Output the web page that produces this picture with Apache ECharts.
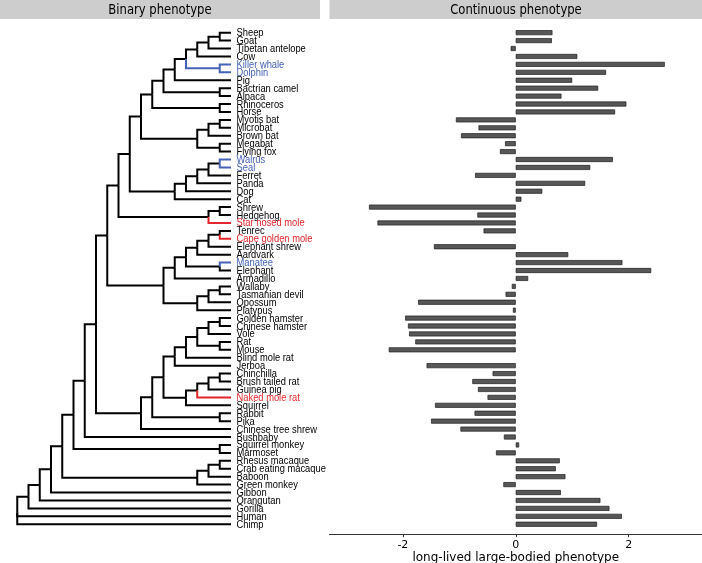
<!DOCTYPE html>
<html>
<head>
<meta charset="utf-8">
<script src="https://cdn.jsdelivr.net/npm/echarts@6/dist/echarts.min.js"></script>
<style>
html,body{margin:0;padding:0;background:#fff;}
#chart{width:702px;height:563px;}
</style>
</head>
<body>
<div id="chart"></div>
<script>
// ---------------- data ----------------
const species = [
  "Sheep","Goat","Tibetan antelope","Cow","Killer whale","Dolphin","Pig","Bactrian camel","Alpaca",
  "Rhinoceros","Horse","Myotis bat","Microbat","Brown bat","Megabat","Flying fox","Walrus","Seal",
  "Ferret","Panda","Dog","Cat","Shrew","Hedgehog","Star nosed mole","Tenrec","Cape golden mole",
  "Elephant shrew","Aardvark","Manatee","Elephant","Armadillo","Wallaby","Tasmanian devil","Opossum",
  "Platypus","Golden hamster","Chinese hamster","Vole","Rat","Mouse","Blind mole rat","Jerboa",
  "Chinchilla","Brush tailed rat","Guinea pig","Naked mole rat","Squirrel","Rabbit","Pika",
  "Chinese tree shrew","Bushbaby","Squirrel monkey","Marmoset","Rhesus macaque","Crab eating macaque",
  "Baboon","Green monkey","Gibbon","Orangutan","Gorilla","Human","Chimp"
];
const phenotypeValues = [
  0.65, 0.64, -0.09, 1.09, 2.64, 1.60, 1.00, 1.46, 0.81,
  1.96, 1.76, -1.06, -0.66, -0.97, -0.19, -0.28, 1.72, 1.32,
  -0.72, 1.23, 0.47, 0.10, -2.60, -0.68, -2.45, -0.57, null,
  -1.45, 0.93, 1.89, 2.40, 0.22, -0.07, -0.18, -1.73,
  -0.05, -1.96, -1.91, -1.89, -1.78, -2.25, null, -1.58,
  -0.41, -0.77, -0.67, -0.50, -1.43, -0.73, -1.50,
  -0.98, -0.21, 0.06, -0.35, 0.78, 0.71,
  0.88, -0.22, 0.80, 1.50, 1.66, 1.88, 1.44
];
const xTickValues = [-2, 0, 2];

// tree topology (Newick pieces)
const ungulatesNwk = "(((((((Sheep,Goat),Tibetan antelope),Cow),(Killer whale,Dolphin)),Pig),(Bactrian camel,Alpaca)),(Rhinoceros,Horse))";
const batsNwk = "(((Myotis bat,Microbat),Brown bat),(Megabat,Flying fox))";
const carnivoresNwk = "(((((Walrus,Seal),Ferret),Panda),Dog),Cat)";
const eulipotyphlaNwk = "((Shrew,Hedgehog),Star nosed mole)";
const afroMarsupNwk = "((((((Tenrec,Cape golden mole),Elephant shrew),Aardvark),(Manatee,Elephant)),Armadillo),(((Wallaby,Tasmanian devil),Opossum),Platypus))";
const muroidNwk = "(((((Golden hamster,Chinese hamster),Vole),(Rat,Mouse)),Blind mole rat),Jerboa)";
const hystricoNwk = "((((Chinchilla,Brush tailed rat),Guinea pig),Naked mole rat),Squirrel)";
const primatesOWM = "(((Rhesus macaque,Crab eating macaque),Baboon),Green monkey)";

const treeNewick =
  "((((((((((((" + ungulatesNwk + "," + batsNwk + ")," + carnivoresNwk + ")," + eulipotyphlaNwk + ")," +
  afroMarsupNwk + "),(((" + muroidNwk + "," + hystricoNwk + "),(Rabbit,Pika)),Chinese tree shrew)),Bushbaby)," +
  "(Squirrel monkey,Marmoset))," + primatesOWM + "),Gibbon),Orangutan),Gorilla),Human,Chimp);";

// foreground branches (identified by the tips below them)
const marineBranches = [["Killer whale"],["Dolphin"],["Killer whale","Dolphin"],["Walrus"],["Seal"],["Manatee"]];
const subterraneanBranches = [["Star nosed mole"],["Cape golden mole"],["Naked mole rat"]];
const marineSpecies = ["Killer whale","Dolphin","Walrus","Seal","Manatee"];
const subterraneanSpecies = ["Star nosed mole","Cape golden mole","Naked mole rat"];

const COLORS = ["#000000", "#4562b6", "#e2262b"];

// ---------------- tree layout ----------------
function parseNewick(str){
  let i = 0;
  function node(){
    const n = {children: []};
    if (str[i] === '('){
      i++;
      while (true){
        n.children.push(node());
        if (str[i] === ','){ i++; continue; }
        if (str[i] === ')'){ i++; break; }
        throw new Error('bad newick at ' + i);
      }
    }
    let name = '';
    while (i < str.length && ',();'.indexOf(str[i]) < 0) name += str[i++];
    n.name = name.trim();
    return n;
  }
  return node();
}
const root = parseNewick(treeNewick);
function layout(n){
  if (!n.children.length){
    n.y = species.indexOf(n.name); n.h = 0; n.tips = [n.name]; return;
  }
  n.children.forEach(layout);
  n.h = 1 + Math.max.apply(null, n.children.map(c => c.h));
  n.y = n.children.reduce((s, c) => s + c.y, 0) / n.children.length;
  n.tips = [].concat.apply([], n.children.map(c => c.tips));
}
layout(root);
const rootH = root.h;
function sameSet(a, b){ return a.length === b.length && a.every(t => b.indexOf(t) >= 0); }
function branchColor(tips){
  if (marineBranches.some(b => sameSet(b, tips))) return 1;
  if (subterraneanBranches.some(b => sameSet(b, tips))) return 2;
  return 0;
}
const edges = [];
(function walk(n){
  n.children.forEach(c => {
    edges.push([rootH - n.h, n.y, rootH - c.h, c.y, branchColor(c.tips)]);
    walk(c);
  });
})(root);
edges.sort((a, b) => (a[4] > 0) - (b[4] > 0));

function labelColor(name){
  if (marineSpecies.indexOf(name) >= 0) return COLORS[1];
  if (subterraneanSpecies.indexOf(name) >= 0) return COLORS[2];
  return '#000';
}

// ---------------- chart ----------------
const GRID_TOP = 28.7, GRID_H = 499.5;
const chart = echarts.init(document.getElementById('chart'), null, {renderer: 'canvas'});
chart.setOption({
  animation: false,
  backgroundColor: '#fff',
  graphic: [
    {type: 'rect', left: 0, top: 0, shape: {width: 320, height: 19}, style: {fill: '#cdcdcd'}},
    {type: 'rect', left: 329.5, top: 0, shape: {width: 373, height: 19}, style: {fill: '#cdcdcd'}},
    {type: 'text', x: 160, y: 10, scaleX: 0.86,
      style: {text: 'Binary phenotype', fill: '#000', fontSize: 13.5, fontFamily: 'DejaVu Sans', align: 'center', verticalAlign: 'middle'}},
    {type: 'text', x: 516, y: 10, scaleX: 0.86,
      style: {text: 'Continuous phenotype', fill: '#000', fontSize: 13.5, fontFamily: 'DejaVu Sans', align: 'center', verticalAlign: 'middle'}}
  ],
  grid: [
    {left: 17.25, width: 213.75, top: GRID_TOP, height: GRID_H, outerBoundsMode: 'none', containLabel: false},
    {left: 329.5, right: 0, top: GRID_TOP, height: GRID_H, outerBoundsMode: 'none', containLabel: false}
  ],
  xAxis: [
    {gridIndex: 0, type: 'value', min: 0, max: rootH, show: false},
    {gridIndex: 1, type: 'value', min: -3.3, max: 3.3, offset: 6,
      axisLine: {show: true, lineStyle: {color: '#333', width: 1}},
      axisTick: {show: true, length: 3, customValues: xTickValues, lineStyle: {color: '#333'}},
      axisLabel: {customValues: xTickValues, fontSize: 11, color: '#000', fontFamily: 'DejaVu Sans', margin: 5},
      splitLine: {show: false},
      name: 'long-lived large-bodied phenotype', nameLocation: 'middle', nameGap: 18, nameMoveOverlap: false,
      nameTextStyle: {fontSize: 12, color: '#000', fontFamily: 'DejaVu Sans', verticalAlign: 'top'}}
  ],
  yAxis: [
    {gridIndex: 0, type: 'value', min: -0.5, max: species.length - 0.5, inverse: true, show: false},
    {gridIndex: 1, type: 'category', data: species, inverse: true, show: false}
  ],
  series: [
    {
      type: 'custom', xAxisIndex: 0, yAxisIndex: 0, clip: false, silent: true,
      data: edges,
      renderItem: function(params, api){
        const p0 = api.coord([api.value(0), api.value(1)]);
        const p1 = api.coord([api.value(0), api.value(3)]);
        const p2 = api.coord([api.value(2), api.value(3)]);
        return {type: 'polyline', shape: {points: [p0, p1, p2]},
          style: {stroke: COLORS[api.value(4)], lineWidth: 2, fill: null, lineJoin: 'miter', lineCap: 'butt'}};
      }
    },
    {
      type: 'custom', xAxisIndex: 0, yAxisIndex: 0, clip: false, silent: true,
      data: species.map((s, i) => [rootH, i]),
      renderItem: function(params, api){
        const p = api.coord([api.value(0), api.value(1)]);
        const name = species[params.dataIndex];
        return {type: 'text', x: p[0] + 5.5, y: p[1] + 0.5, scaleX: 0.85,
          style: {text: name, fill: labelColor(name), fontSize: 11, fontFamily: 'Liberation Sans',
            align: 'left', verticalAlign: 'middle'}};
      }
    },
    {
      type: 'bar', xAxisIndex: 1, yAxisIndex: 1, barWidth: 5,
      data: phenotypeValues,
      itemStyle: {color: '#575757', borderColor: '#1e1e1e', borderWidth: 0.7},
      silent: true
    }
  ]
});
</script>
</body>
</html>
